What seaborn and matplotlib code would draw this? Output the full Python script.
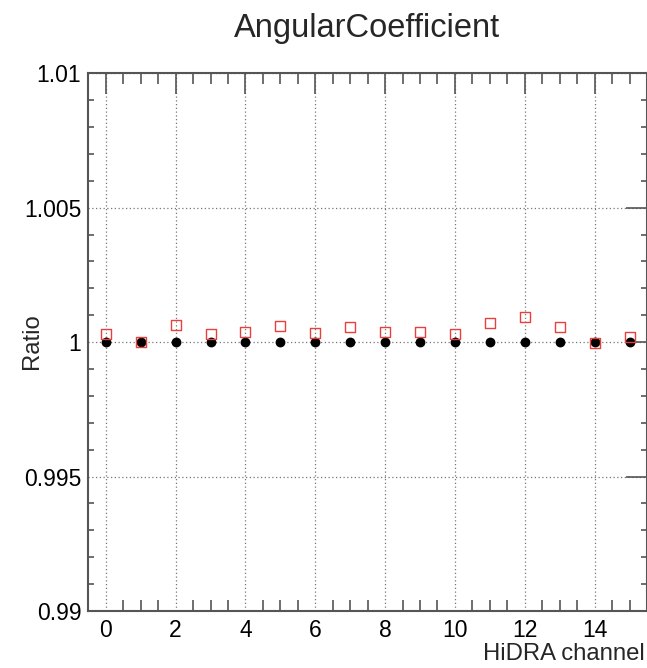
import matplotlib
matplotlib.use("Agg")
import matplotlib.pyplot as plt
import seaborn as sns
import pandas as pd
import numpy as np
from matplotlib.ticker import MultipleLocator

channels = list(range(16))
reference_ratio = [1.0] * 16
angular_ratio = [1.00031, 1.00000, 1.00063, 1.00029, 1.00037, 1.00060, 1.00035, 1.00057,
                 1.00039, 1.00036, 1.00030, 1.00070, 1.00092, 1.00057, 0.99998, 1.00019]
title = "AngularCoefficient"
xlabel = "HiDRA channel"
ylabel = "Ratio"
ytick_labels = ["0.99", "0.995", "1", "1.005", "1.01"]
ytick_values = [0.99, 0.995, 1.0, 1.005, 1.01]
xtick_values = [0, 2, 4, 6, 8, 10, 12, 14]

sns.set_theme(style="white")
plt.rcParams['font.family'] = ['Liberation Sans', 'DejaVu Sans']

df = pd.DataFrame({"channel": channels, "ref": reference_ratio, "ang": angular_ratio})

fig = plt.figure(figsize=(6.47, 6.68), dpi=100)
ax = fig.add_axes([88.3 / 647, (668 - 611) / 668, (647 - 88.3) / 647, (611 - 73.3) / 668])

sns.scatterplot(data=df, x="channel", y="ref", ax=ax, marker="o", s=50,
                color="black", edgecolor="black", linewidth=0, zorder=3)
sns.scatterplot(data=df, x="channel", y="ang", ax=ax, marker="s", s=52,
                facecolor="none", edgecolor="#e8403f", linewidth=1.0, zorder=4)

ax.set_xlim(-0.5, 15.5)
ax.set_ylim(0.99, 1.01)
ax.set_xticks(xtick_values)
ax.set_xticklabels([str(v) for v in xtick_values])
ax.xaxis.set_minor_locator(MultipleLocator(0.5))
ax.set_yticks(ytick_values)
ax.set_yticklabels(ytick_labels)
ax.yaxis.set_minor_locator(MultipleLocator(0.001))

ax.tick_params(axis="both", which="major", direction="in", top=True, right=True,
               labelsize=16.5, colors="#555555", labelcolor="black", width=1.2)
ax.tick_params(axis="x", which="major", length=15, pad=6)
ax.tick_params(axis="y", which="major", length=15, pad=5)
ax.tick_params(axis="x", which="minor", direction="in", top=True, bottom=True,
               length=8, width=1.2, colors="#555555")
ax.tick_params(axis="y", which="minor", direction="in", left=True, right=True,
               length=4, width=1.2, colors="#555555")

ax.grid(True, which="major", linestyle=(0, (1, 2)), color="#777777", linewidth=0.9)
ax.set_axisbelow(True)
for sp in ax.spines.values():
    sp.set_color("#555555")
    sp.set_linewidth(1.5)

ax.set_xlabel("")
ax.set_ylabel("")
fig.text(645 / 647, (668 - 660) / 668, xlabel, ha="right", va="baseline", fontsize=17.2)
fig.text(32 / 647, (668 - 341) / 668, ylabel, ha="center", va="center", rotation=90, fontsize=17.2)
fig.text(367 / 647, (668 - 29) / 668, title, ha="center", va="center", fontsize=23.5)

fig.savefig("out.png", dpi=100)
